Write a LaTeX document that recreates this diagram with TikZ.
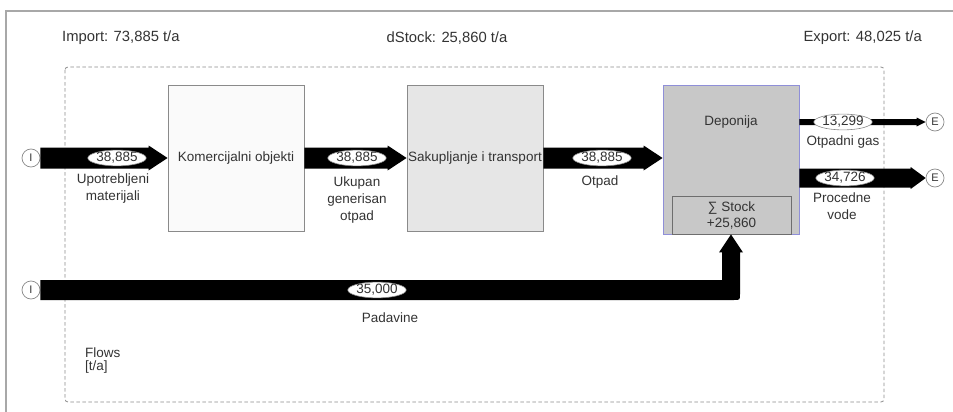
\documentclass[tikz,border=0pt]{standalone}
\usepackage{fontspec}
\setmainfont{Liberation Sans}
\usetikzlibrary{shapes.geometric,calc}

\definecolor{txt}{HTML}{333333}
\definecolor{framegray}{HTML}{A8A8A8}
\definecolor{boundgray}{HTML}{8C8C8C}
\definecolor{boxgray}{HTML}{8A8A8A}
\definecolor{procfill}{HTML}{FAFAFA}
\definecolor{transfill}{HTML}{E6E6E6}
\definecolor{landfill}{HTML}{C8C8C8}
\definecolor{landedge}{HTML}{8F8FD8}
\definecolor{stockedge}{HTML}{6E6E6E}

% straight fat flow: start, end, half width, half head width, head length
\newcommand\fatflow[5]{%
  \fill[flowfill] let \p1=(#1), \p2=(#2) in
    (\x1,\y1+#3pt) -- (\x2-#5pt,\y1+#3pt) -- (\x2-#5pt,\y1+#4pt) -- (\x2,\y1)
    -- (\x2-#5pt,\y1-#4pt) -- (\x2-#5pt,\y1-#3pt) -- (\x1,\y1-#3pt) -- cycle;}

\begin{document}
\begin{tikzpicture}[x=1pt,y=-1pt,
  font=\fontsize{13.5}{16}\selectfont, text=txt,
  procbox/.style={draw=boxgray, line width=0.8pt, minimum width=136pt,
    minimum height=146pt, inner sep=0pt},
  lbl/.style={inner sep=0pt, align=center, font=\fontsize{13.5}{17}\selectfont},
  headline/.style={inner sep=0pt, font=\fontsize{14.8}{17}\selectfont},
  value/.style={ellipse, draw=boxgray, fill=white, line width=0.6pt,
    minimum width=#1, minimum height=15pt, inner sep=0pt},
  port/.style={circle, draw=boxgray, fill=white, line width=0.7pt,
    minimum size=18pt, inner sep=0pt, font=\fontsize{11}{12}\selectfont},
  flowfill/.style={fill=black}]

\useasboundingbox (0,0) rectangle (953,412);

% outer frame
\draw[framegray, line width=1.1pt] (6,412) -- (6,11) -- (953,11);

% system boundary
\draw[boundgray, line width=0.8pt, dash pattern=on 3.5pt off 2.5pt, rounded corners=3pt]
  (65,67) rectangle (884,402);

% balance figures
\node[headline, anchor=west] (imp) at (62,38) {Import: 73,885 t/a};
\node[headline] (dst) at (447,38) {dStock: 25,860 t/a};
\node[headline, anchor=east] (exp) at (922,38) {Export: 48,025 t/a};

% processes
\node[procbox, fill=procfill] (kom) at (236,158) {Komercijalni objekti};
\node[procbox, fill=transfill] (sak) at (475,158) {Sakupljanje i transport};
\node[procbox, draw=landedge, fill=landfill, minimum height=149pt] (dep) at (731,159.5) {};
\node[lbl] (deptxt) at (731,122) {Deponija};
\node[draw=stockedge, fill=landfill, line width=0.8pt, minimum width=119pt,
  minimum height=38pt, inner sep=0pt, align=center,
  font=\fontsize{13.5}{16}\selectfont] (stock) at (731.5,215) {∑ Stock\\+25,860};

% import / export ports
\node[port] (iA) at (31,158) {I};
\node[port] (iB) at (31,290) {I};
\node[port] (eA) at (935,122) {E};
\node[port] (eB) at (935,178) {E};

% flows
\fatflow{iA.east}{kom.west}{10.5}{12.5}{19}
\fatflow{kom.east}{sak.west}{10.5}{12.5}{19}
\fatflow{sak.east}{dep.west}{10.5}{12.5}{19}
\coordinate (gasout) at (dep.east |- eA);
\coordinate (vodeout) at (dep.east |- eB);
\fatflow{gasout}{eA.west}{3}{4.5}{9}
\fatflow{vodeout}{eB.west}{9.5}{11}{15}

% precipitation flow, bending up into the landfill
\fill[flowfill] let \p1=(iB.east), \p2=(dep.south) in
  (\x1,\y1+10pt) -- (\x2-9pt,\y1+10pt) -- (\x2-9pt,\y2-18pt) -- (\x2-12pt,\y2-18pt)
  -- (\x2,\y2) -- (\x2+12pt,\y2-18pt) -- (\x2+9pt,\y2-18pt) -- (\x2+9pt,\y1-4pt)
  .. controls (\x2+9pt,\y1-10pt) .. (\x2+3pt,\y1-10pt) -- (\x1,\y1-10pt) -- cycle;

% flow values
\node[value=58pt] (v1) at (117,158) {38,885};
\node[value=53pt] (v2) at (357,158) {38,885};
\node[value=58pt] (v3) at (602,158) {38,885};
\node[value=57pt, minimum height=14pt] (v4) at (843,122) {13,299};
\node[value=57pt, minimum height=14pt] (v5) at (845,178) {34,726};
\node[value=50pt] (v6) at (377,290) {35,000};

% flow names
\node[lbl] (n1) at (113,188.5) {Upotrebljeni\\materijali};
\node[lbl] (n2) at (357,200) {Ukupan\\generisan\\otpad};
\node[lbl] (n3) at (600,182) {Otpad};
\node[lbl] (n4) at (843,142) {Otpadni gas};
\node[lbl] (n5) at (842,206) {Procedne\\vode};
\node[lbl] (n6) at (390,318) {Padavine};

\node[lbl, align=left, anchor=north west, font=\fontsize{13.5}{13}\selectfont] (units) at (85,348) {Flows\\[0pt][t/a]};
\end{tikzpicture}
\end{document}
